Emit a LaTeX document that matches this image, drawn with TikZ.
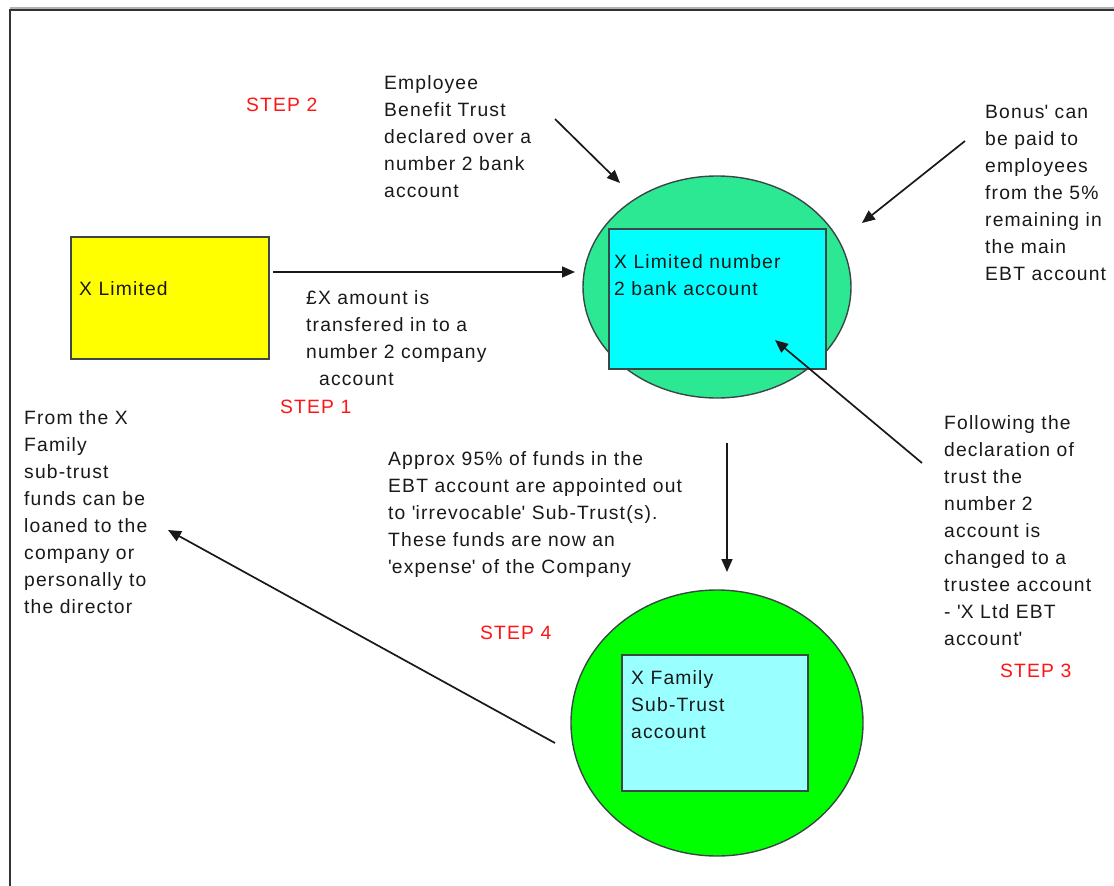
\documentclass[tikz,border=0pt]{standalone}
\usepackage{fontspec}
\setmainfont{Liberation Sans}[LetterSpace=6]
\usetikzlibrary{arrows.meta,shapes.geometric}
\definecolor{seagrn}{RGB}{45,232,146}
\definecolor{cyanbox}{RGB}{0,255,255}
\definecolor{limegrn}{RGB}{0,255,0}
\definecolor{palecyan}{RGB}{153,255,255}
\definecolor{yelbox}{RGB}{255,255,0}
\definecolor{edge}{RGB}{60,70,70}
\definecolor{stepred}{RGB}{255,20,20}
\newcommand\sq{\textquotesingle}
\begin{document}
\begin{tikzpicture}[x=1pt,y=-1pt,
  txt/.style={anchor=north west, inner sep=0pt, align=left, font=\fontsize{19.3}{27}\selectfont, text=black!90},
  steplbl/.style={txt, text=stepred},
  conn/.style={line width=1.7pt, draw=black!90, -{Triangle[length=13pt,width=11pt]}},
  blob/.style={ellipse, draw=edge, line width=1.4pt, inner sep=0pt},
  acct/.style={rectangle, draw=edge, line width=1.5pt, inner sep=0pt}]
\useasboundingbox (0,0) rectangle (1114,886);
% frame
\draw[gray!60, line width=3pt] (10,8) -- (1114,8);
\draw[black!80, line width=1.2pt] (10,886) -- (10,10) -- (1114,10);

% shapes
\node[acct, fill=yelbox, minimum width=198pt, minimum height=122pt] (xlim) at (170,298) {};
\node[blob, fill=seagrn, minimum width=268pt, minimum height=222pt] (ebt) at (717,287) {};
\node[acct, fill=cyanbox, minimum width=217pt, minimum height=140pt] (num2) at (717.5,299) {};
\node[blob, fill=limegrn, minimum width=292pt, minimum height=266pt] (sub) at (717,723) {};
\node[acct, fill=palecyan, minimum width=186pt, minimum height=136pt] (fam) at (715,723) {};

% texts
\node[txt] (xlimt) at (79,276) {\strut X Limited};
\node[txt] (num2t) at (614,249) {\strut X Limited number\\2 bank account};
\node[txt] (famt) at (631,665) {\strut X Family\\Sub-Trust\\account};
\node[txt] (empt) at (384,70) {\strut Employee\\Benefit Trust\\declared over a\\number 2 bank\\account};
\node[steplbl] (s2) at (246,92) {\strut STEP 2};
\node[txt] (bonus) at (985,99) {\strut Bonus\sq\ can\\be paid to\\employees\\from the 5\%\\remaining in\\the main\\EBT account};
\node[txt] (amt) at (306,285) {\strut \pounds X amount is\\transfered in to a\\number 2 company\\\hspace*{13pt}account};
\node[steplbl] (s1) at (280,394) {\strut STEP 1};
\node[txt] (fromt) at (24,405) {\strut From the X\\Family\\sub-trust\\funds can be\\loaned to the\\company or\\personally to\\the director};
\node[txt] (appr) at (388,446) {\strut Approx 95\% of funds in the\\EBT account are appointed out\\to \sq irrevocable\sq\ Sub-Trust(s).\\These funds are now an\\\sq expense\sq\ of the Company};
\node[steplbl] (s4) at (480,620) {\strut STEP 4};
\node[txt] (foll) at (944,410) {\strut Following the\\declaration of\\trust the\\number 2\\account is\\changed to a\\trustee account\\- \sq X Ltd EBT\\account\sq};
\node[steplbl] (s3) at (1000,658) {\strut STEP 3};

% connector end points
\coordinate (a1s) at (273,272);
\coordinate (a1e) at (575,272);
\coordinate (a2s) at (555,119);
\coordinate (a2e) at (620,183);
\coordinate (a3s) at (965,141);
\coordinate (a3e) at (862,223);
\coordinate (a4s) at (922,463);
\coordinate (a4e) at (775,340);
\coordinate (a5s) at (727,443);
\coordinate (a5e) at (727,572);
\coordinate (a6s) at (555,743);
\coordinate (a6e) at (168,530);

\draw[conn] (a1s) -- (a1e);
\draw[conn] (a2s) -- (a2e);
\draw[conn] (a3s) -- (a3e);
\draw[conn] (a4s) -- (a4e);
\draw[conn] (a5s) -- (a5e);
\draw[conn] (a6s) -- (a6e);
\end{tikzpicture}
\end{document}
